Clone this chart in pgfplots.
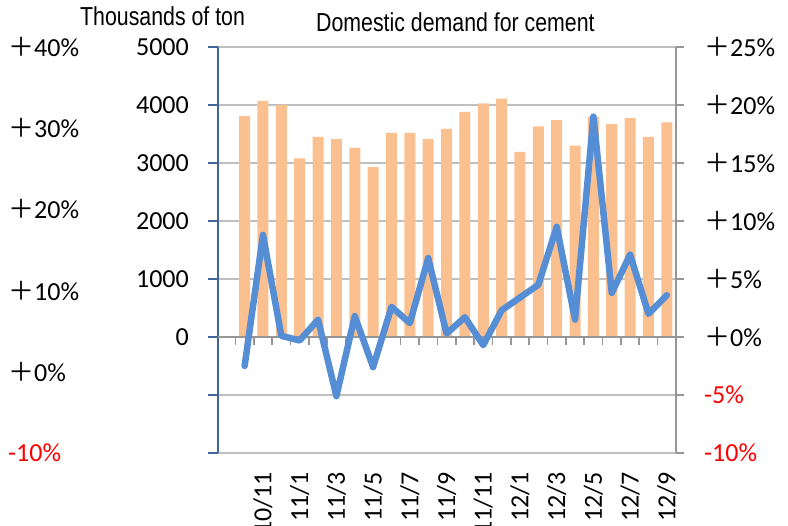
\documentclass[border=0pt]{standalone}
\usepackage{fontspec}
\setmainfont{Carlito}
\newfontfamily\arialn[FakeStretch=0.82]{Liberation Sans}
\newfontfamily\cjk{Noto Sans CJK JP}
\usepackage{pgfplots}
\pgfplotsset{compat=1.18}
\usepackage{pgfplotstable}
\definecolor{barc}{RGB}{250,192,144}
\definecolor{linec}{RGB}{85,142,213}
\definecolor{laxis}{RGB}{65,102,155}
\definecolor{raxis}{RGB}{150,150,150}
\definecolor{gridc}{RGB}{191,191,191}
\newcommand{\pl}{{\cjk ＋}}

\pgfplotstableread{
x demand
0 3810
1 4070
2 4000
3 3080
4 3450
5 3410
6 3260
7 2930
8 3520
9 3520
10 3410
11 3590
12 3880
13 4030
14 4110
15 3190
16 3630
17 3740
18 3300
19 3800
20 3670
21 3780
22 3450
23 3700
}\demand

\pgfplotstableread{
x growth
0 -2.5
1 8.8
2 0.1
3 -0.3
4 1.5
5 -5.1
6 1.8
7 -2.6
8 2.6
9 1.2
10 6.8
11 0.3
12 1.7
13 -0.7
14 2.3
15 3.4
16 4.5
17 9.5
18 1.5
19 19.0
20 3.8
21 7.1
22 2.0
23 3.6
}\growth

\begin{document}
\begin{tikzpicture}[x=1pt,y=1pt]
\path[use as bounding box] (0,0) rectangle (788,526);
% main axis: demand
\begin{axis}[at={(218pt,73pt)}, anchor=south west, scale only axis,
  width=458pt, height=406pt,
  xmin=-1.45, xmax=23.5, ymin=-2000, ymax=5000,
  axis y line*=left, axis x line*=bottom,
  x axis line style={draw=none},
  y axis line style={laxis, line width=2pt},
  ytick={-2000,-1000,...,5000},
  yticklabels={,,0,1000,2000,3000,4000,5000},
  ymajorgrids, grid style={gridc, line width=1.6pt},
  ytick style={laxis, line width=1.6pt},
  tick align=outside, major tick length=10pt,
  xtick={1,3,...,23},
  xticklabels={10/11,11/1,11/3,11/5,11/7,11/9,11/11,12/1,12/3,12/5,12/7,12/9},
  xtick style={draw=none},
  xticklabel style={rotate=90, anchor=east, inner sep=0pt},
  xticklabel shift=9pt,
  yticklabel style={inner sep=0pt},
  yticklabel shift=19pt,
  tick label style={font=\fontsize{26}{30}\selectfont},
  clip=false,
]
\addplot[ybar, bar width=0.6, fill=barc, draw=none] table[x=x, y=demand] {\demand};
\draw[raxis, line width=2pt] (axis cs:-1.45,0) -- (axis cs:23.5,0);
\pgfplotsinvokeforeach{-0.5,0.5,1.5,2.5,3.5,4.5,5.5,6.5,7.5,8.5,9.5,10.5,11.5,12.5,13.5,14.5,15.5,16.5,17.5,18.5,19.5,20.5,21.5,22.5,23.5}{
  \draw[raxis, line width=1.6pt] (axis cs:#1,0) -- ([yshift=-8pt]axis cs:#1,0);
}
\end{axis}
% secondary axis: growth
\begin{axis}[at={(218pt,73pt)}, anchor=south west, scale only axis,
  width=458pt, height=406pt,
  xmin=-1.45, xmax=23.5, ymin=-10, ymax=25,
  axis y line*=right, axis x line=none,
  y axis line style={raxis, line width=2pt},
  ytick={-10,-5,...,25},
  yticklabels={\textcolor{red}{-10\%},\textcolor{red}{-5\%},\pl0\%,\pl5\%,\pl10\%,\pl15\%,\pl20\%,\pl25\%},
  ytick style={raxis, line width=1.6pt},
  tick align=outside, major tick length=8pt,
  yticklabel style={anchor=west, inner sep=0pt},
  yticklabel shift=20pt,
  tick label style={font=\fontsize{26}{30}\selectfont},
]
\addplot[linec, line width=6.5pt, line join=round, line cap=round, mark=none] table[x=x, y=growth] {\growth};
\end{axis}
% stray third axis labels on far left
\begin{axis}[at={(218pt,73pt)}, anchor=south west, scale only axis,
  width=458pt, height=406pt,
  xmin=0, xmax=1, ymin=-10, ymax=40,
  axis y line*=left, axis x line=none,
  y axis line style={draw=none},
  ytick={-10,0,...,40},
  yticklabels={\textcolor{red}{-10\%},\pl0\%,\pl10\%,\pl20\%,\pl30\%,\pl40\%},
  ytick style={draw=none}, major tick length=0pt,
  yticklabel style={anchor=west, inner sep=0pt, xshift=-210pt},
  tick label style={font=\fontsize{26}{30}\selectfont},
]
\addplot[draw=none] coordinates {(0,0)};
\end{axis}
\node[anchor=base west, inner sep=0pt, font=\arialn\fontsize{26}{30}\selectfont] at (80,500) {Thousands of ton};
\node[anchor=base west, inner sep=0pt, font=\arialn\fontsize{26}{30}\selectfont] at (316,494) {Domestic demand for cement};
\end{tikzpicture}
\end{document}
